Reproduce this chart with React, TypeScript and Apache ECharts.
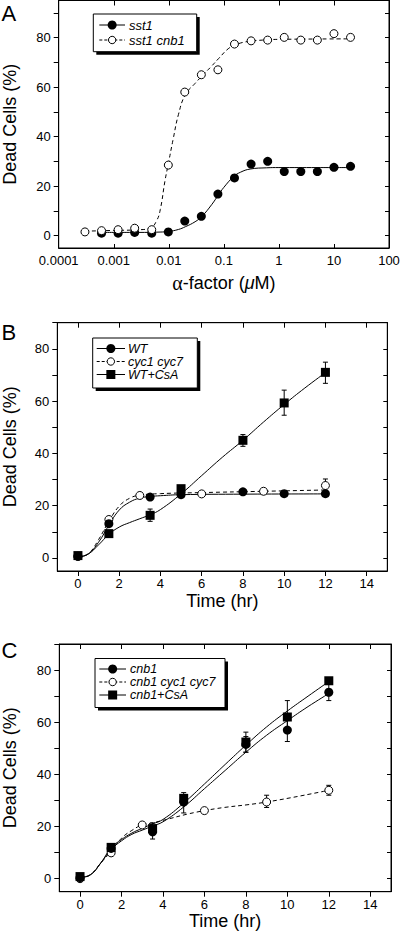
import React, { useEffect, useRef } from "react";
import * as echarts from "echarts";

// ---------- Panel A ----------
const aDoseX = [0.0003, 0.0006, 0.0012, 0.0024, 0.0049, 0.0098, 0.0195, 0.039, 0.078, 0.156, 0.3125, 0.625, 1.25, 2.5, 5, 10, 20];
const aSst1 = [null, 1, 1, 1.3, 1, 1.5, 5.9, 7.8, 16.8, 23.3, 28.9, 30, 25.9, 25.9, 25.9, 27.6, 28];
const aSst1Cnb1 = [1.5, 2, 2.4, 3, 2.4, 28.5, 58, 65, 67, 77.4, 78.7, 79, 80.1, 79, 79, 81.6, 80.1];
const aFitSst1X = [0.0006, 0.001, 0.003, 0.006, 0.01, 0.015, 0.02, 0.03, 0.04, 0.06, 0.08, 0.1, 0.15, 0.2, 0.3, 0.6, 1, 5, 20];
const aFitSst1Y = [1.3, 1.3, 1.3, 1.4, 1.7, 2.5, 3.6, 5.6, 7.8, 12.5, 16.5, 19.5, 23.8, 25.6, 26.9, 27.4, 27.5, 27.5, 27.5];
const aFitCnb1X = [0.0003, 0.001, 0.003, 0.0046, 0.006, 0.007, 0.0085, 0.01, 0.012, 0.015, 0.02, 0.03, 0.04, 0.06, 0.08, 0.12, 0.16, 0.25, 0.5, 1, 20];
const aFitCnb1Y = [1.8, 2.1, 2.4, 3, 6, 10.5, 22, 30, 39, 49, 57, 61.5, 64.5, 68.5, 71.5, 75.5, 77, 78.3, 79, 79.3, 79.5];
const aDoseTickLabels = ["0.0001", "0.001", "0.01", "0.1", "1", "10", "100"];
const aNames = ["sst1", "sst1 cnb1"];

// ---------- Panel B ----------
const bWtX = [0, 1.5, 3.5, 5, 8, 10, 12];
const bWtY = [0.6, 13.1, 23.3, 24.2, 25.3, 24.6, 24.6];
const bCycX = [0, 1.5, 3, 6, 9, 12];
const bCycY = [0.6, 14.7, 23.9, 24.5, 25.5, 27.7];
const bCsaX = [0, 1.5, 3.5, 5, 8, 10, 12];
const bCsaY = [0.9, 9.3, 16.3, 26.5, 45, 59.3, 71];
const bFitWtX = [0, 0.5, 1, 1.5, 2, 2.5, 3, 3.5, 4, 5, 8, 12];
const bFitWtY = [0.3, 1.5, 6, 12.5, 18.3, 21.3, 22.9, 23.5, 23.8, 24.2, 24.4, 24.5];
const bFitCycX = [0, 0.5, 1, 1.5, 2, 2.5, 3, 4, 6, 9, 12];
const bFitCycY = [0.3, 1.6, 7, 14, 19.8, 22.8, 24, 24.6, 25, 25.5, 26];
const bFitCsaX = [0, 0.5, 1, 1.5, 2, 2.5, 3, 3.5, 4, 5, 6, 7, 8, 9, 10, 11, 12];
const bFitCsaY = [0.3, 1.5, 5, 9, 11.8, 13.5, 15, 16.5, 18.5, 24.5, 31.5, 38.5, 45, 52, 58.7, 65, 70.9];
const bErrCsa = [[3.5, 14, 18.7], [8, 42.7, 47.2], [10, 54.6, 64.2], [12, 66.8, 74.9]];
const bErrCyc = [[12, 25.5, 30.2]];
const bNames = ["WT", "cyc1 cyc7", "WT+CsA"];

// ---------- Panel C ----------
const cCnbX = [0, 1.5, 3.5, 5, 8, 10, 12];
const cCnbY = [0.4, 11.6, 18, 29.4, 51.5, 57, 71.5];
const cCycX = [0, 1.5, 3, 6, 9, 12];
const cCycY = [0, 9.9, 20.6, 26.1, 29.4, 33.9];
const cCsaX = [0, 1.5, 3.5, 5, 8, 10, 12];
const cCsaY = [0.8, 12, 19.2, 30.8, 52.4, 62, 75.9];
const cFitCnbX = [0, 0.5, 1, 1.5, 2, 2.5, 3, 3.5, 4, 5, 6, 7, 8, 9, 10, 11, 12];
const cFitCnbY = [0.5, 1.5, 6, 11.2, 14.5, 17, 18.6, 20.2, 21.8, 27.5, 34.5, 41.5, 48.5, 55, 60.6, 66, 71];
const cFitCsaX = [0, 0.5, 1, 1.5, 2, 2.5, 3, 3.5, 4, 5, 6, 7, 8, 9, 10, 11, 12];
const cFitCsaY = [0.5, 1.5, 6, 11.8, 15, 17.5, 19.3, 21, 22.7, 29, 36.3, 43.8, 51.2, 58.2, 64.3, 70, 75.6];
const cFitCycX = [0, 0.5, 1, 1.5, 2, 2.5, 3, 3.5, 6, 9, 12];
const cFitCycY = [0, 1.5, 6, 10.5, 15.5, 18.5, 20.6, 21.4, 26.1, 29.4, 33.9];
const cErrCnb = [[3.5, 15.2, 21.4], [5, 25.2, 33], [8, 48.5, 54.5], [10, 52.6, 61.4], [12, 68.3, 74.7]];
const cErrCsa = [[8, 48.5, 56.2], [10, 55.7, 68.3]];
const cErrCyc = [[9, 27.3, 32], [12, 32, 35.8]];
const cNames = ["cnb1", "cnb1 cyc1 cyc7", "cnb1+CsA"];

const timeTicks = [0, 2, 4, 6, 8, 10, 12, 14];
const yTicks = [0, 10, 20, 30, 40, 50, 60, 70, 80, 90];
const yLabels = [0, 20, 40, 60, 80];

const FONT = '"Liberation Sans", Arial, Helvetica, sans-serif';
const BLACK = "#000";

const zip = (xs: number[], ys: (number | null)[]) =>
  xs.map((x, i) => [x, ys[i]]).filter((p) => p[1] !== null);

function App() {
  const ref = useRef<HTMLDivElement>(null);
  useEffect(() => {
    if (!ref.current) return;
    const chart = echarts.init(ref.current, null, { renderer: "svg" });

    const grids = [
      { left: 58.7, top: 0.5, width: 330.3, height: 247.5 },
      { left: 57.3, top: 322.7, width: 330, height: 248.3 },
      { left: 59.3, top: 644, width: 331.7, height: 247.7 },
    ].map((g) => ({
      ...g, show: true, borderColor: BLACK, borderWidth: 1, backgroundColor: "transparent",
      containLabel: false, outerBoundsMode: "none",
    }));

    const labelStyle = { color: BLACK, fontSize: 13, fontFamily: FONT };
    const nameStyle = { color: BLACK, fontSize: 18, fontFamily: FONT, fontWeight: "normal" };

    const yLeft = (gi: number, max: number, gap: number) => ({
      type: "value", gridIndex: gi, min: -5, max, position: "left",
      axisLine: { show: true, onZero: false, lineStyle: { color: BLACK, width: 1 } },
      axisTick: { show: true, inside: false, length: 5, customValues: yTicks, lineStyle: { color: BLACK } },
      axisLabel: { ...labelStyle, margin: 8, customValues: yLabels },
      splitLine: { show: false },
      name: "Dead Cells (%)", nameLocation: "middle", nameGap: gap, nameTextStyle: nameStyle,
    });
    const yRight = (gi: number, max: number) => ({
      type: "value", gridIndex: gi, min: -5, max, position: "right",
      axisLine: { show: true, onZero: false, lineStyle: { color: BLACK, width: 1 } },
      axisTick: { show: true, inside: true, length: 4, customValues: yTicks, lineStyle: { color: BLACK } },
      axisLabel: { show: false },
      splitLine: { show: false },
    });
    const xTime = (gi: number, nameGap: number) => ({
      type: "value", gridIndex: gi, min: -1, max: 15, position: "bottom",
      axisLine: { show: true, onZero: false, lineStyle: { color: BLACK, width: 1 } },
      axisTick: { show: true, inside: false, length: 5, customValues: timeTicks, lineStyle: { color: BLACK } },
      axisLabel: { ...labelStyle, margin: 6, customValues: timeTicks },
      splitLine: { show: false },
      name: "Time (hr)", nameLocation: "middle", nameGap, nameTextStyle: nameStyle,
    });
    const xTimeTop = (gi: number) => ({
      type: "value", gridIndex: gi, min: -1, max: 15, position: "top",
      axisLine: { show: true, onZero: false, lineStyle: { color: BLACK, width: 1 } },
      axisTick: { show: true, inside: true, length: 5, customValues: timeTicks, lineStyle: { color: BLACK } },
      axisLabel: { show: false },
      splitLine: { show: false },
    });
    const xLog = (pos: string) => ({
      type: "log", logBase: 10, gridIndex: 0, min: 0.0001, max: 100, position: pos,
      axisLine: { show: true, onZero: false, lineStyle: { color: BLACK, width: 1 } },
      axisTick: { show: true, inside: true, length: pos === "top" ? 5 : 4, lineStyle: { color: BLACK } },
      axisLabel: pos === "top" ? { show: false } : {
        ...labelStyle, margin: 6, showMinLabel: true, showMaxLabel: true, hideOverlap: false,
        formatter: (v: number) => aDoseTickLabels[Math.round(Math.log10(v)) + 4] ?? "",
      },
      minorTick: { show: false },
      splitLine: { show: false },
      ...(pos === "bottom"
        ? {
            name: "{g|α}-factor ({i|μ}M)", nameLocation: "middle", nameGap: 25,
            nameTextStyle: {
              ...nameStyle,
              rich: {
                g: { fontFamily: '"Liberation Serif", "DejaVu Serif", serif', fontSize: 20, color: BLACK },
                i: { fontFamily: FONT, fontStyle: "italic", fontSize: 18, color: BLACK },
              },
            },
          }
        : {}),
    });

    const fit = (xi: number, yi: number, xs: number[], ys: number[], dashed: boolean) => ({
      type: "line", xAxisIndex: xi, yAxisIndex: yi, data: zip(xs, ys),
      smooth: 0.45, showSymbol: false, symbol: "none", silent: true, z: 2,
      lineStyle: { color: BLACK, width: 1, type: dashed ? [4, 3] : "solid" },
    });
    const pts = (xi: number, yi: number, xs: number[], ys: (number | null)[], kind: string, z: number) => ({
      type: "scatter", xAxisIndex: xi, yAxisIndex: yi, data: zip(xs, ys), z,
      symbol: kind === "square" ? "rect" : "circle",
      symbolSize: kind === "open" ? 8 : 9,
      itemStyle: kind === "open"
        ? { color: "#fff", borderColor: BLACK, borderWidth: 1, opacity: 1 }
        : { color: BLACK, borderColor: BLACK, borderWidth: 0, opacity: 1 },
    });
    const err = (xi: number, yi: number, data: number[][]) => ({
      type: "custom", xAxisIndex: xi, yAxisIndex: yi, data, z: 3, silent: true,
      encode: { x: 0, y: [1, 2] },
      renderItem: (_p: any, api: any) => {
        const x = api.value(0);
        const lo = api.coord([x, api.value(1)]);
        const hi = api.coord([x, api.value(2)]);
        const st = { stroke: BLACK, lineWidth: 1 };
        return {
          type: "group",
          children: [
            { type: "line", shape: { x1: lo[0], y1: lo[1], x2: hi[0], y2: hi[1] }, style: st },
            { type: "line", shape: { x1: lo[0] - 2.5, y1: lo[1], x2: lo[0] + 2.5, y2: lo[1] }, style: st },
            { type: "line", shape: { x1: hi[0] - 2.5, y1: hi[1], x2: hi[0] + 2.5, y2: hi[1] }, style: st },
          ],
        };
      },
    });

    // legend drawn with graphic
    const legend = (
      bx: number, by: number, bw: number, bh: number,
      lx1: number, lx2: number, tx: number, fs: number,
      rows: { name: string; y: number; kind: string; dashed: boolean }[]
    ) => {
      const els: any[] = [
        { type: "rect", shape: { x: bx + 3, y: by + 3, width: bw, height: bh }, style: { fill: BLACK } },
        { type: "rect", shape: { x: bx, y: by, width: bw, height: bh }, style: { fill: "#fff", stroke: BLACK, lineWidth: 1 } },
      ];
      const mx = (lx1 + lx2) / 2;
      rows.forEach((r) => {
        els.push({
          type: "line", shape: { x1: lx1, y1: r.y, x2: lx2, y2: r.y },
          style: { stroke: BLACK, lineWidth: 1, lineDash: r.dashed ? [3, 2] : null },
        });
        if (r.kind === "square") {
          els.push({ type: "rect", shape: { x: mx - 4.5, y: r.y - 4.5, width: 9, height: 9 }, style: { fill: BLACK } });
        } else if (r.kind === "open") {
          els.push({ type: "circle", shape: { cx: mx, cy: r.y, r: 3.7 }, style: { fill: "#fff", stroke: BLACK, lineWidth: 1 } });
        } else {
          els.push({ type: "circle", shape: { cx: mx, cy: r.y, r: 4.5 }, style: { fill: BLACK } });
        }
        els.push({
          type: "text", x: tx, y: r.y,
          style: {
            text: r.name, fill: BLACK, fontSize: fs, fontStyle: "italic", fontFamily: FONT,
            lineHeight: fs, verticalAlign: "middle", align: "left",
          },
        });
      });
      return els;
    };
    const letter = (t: string, y: number) => ({
      type: "text", x: 1.5, y,
      style: { text: t, fill: BLACK, fontSize: 22, fontFamily: FONT, verticalAlign: "top", align: "left" },
    });

    const option: any = {
      animation: false,
      backgroundColor: "#fff",
      grid: grids,
      xAxis: [xLog("bottom"), xLog("top"), xTime(1, 21), xTimeTop(1), xTime(2, 15), xTimeTop(2)],
      yAxis: [
        yLeft(0, 95, 40), yRight(0, 95),
        yLeft(1, 90, 38.6), yRight(1, 90),
        yLeft(2, 90, 40.6), yRight(2, 90),
      ],
      series: [
        // A
        fit(0, 0, aFitSst1X, aFitSst1Y, false),
        fit(0, 0, aFitCnb1X, aFitCnb1Y, true),
        pts(0, 0, aDoseX, aSst1, "filled", 4),
        pts(0, 0, aDoseX, aSst1Cnb1, "open", 5),
        // B
        fit(2, 2, bFitWtX, bFitWtY, false),
        fit(2, 2, bFitCycX, bFitCycY, true),
        fit(2, 2, bFitCsaX, bFitCsaY, false),
        err(2, 2, bErrCsa),
        err(2, 2, bErrCyc),
        pts(2, 2, bCycX, bCycY, "open", 4),
        pts(2, 2, bWtX, bWtY, "filled", 5),
        pts(2, 2, bCsaX, bCsaY, "square", 6),
        // C
        fit(4, 4, cFitCnbX, cFitCnbY, false),
        fit(4, 4, cFitCycX, cFitCycY, true),
        fit(4, 4, cFitCsaX, cFitCsaY, false),
        err(4, 4, cErrCnb),
        err(4, 4, cErrCsa),
        err(4, 4, cErrCyc),
        pts(4, 4, cCycX, cCycY, "open", 4),
        pts(4, 4, cCnbX, cCnbY, "filled", 5),
        pts(4, 4, cCsaX, cCsaY, "square", 6),
      ],
      graphic: [
        letter("A", 2),
        letter("B", 321),
        letter("C", 639),
        ...legend(93.3, 14, 103.4, 37.7, 99.3, 125, 129, 13, [
          { name: aNames[0], y: 25, kind: "filled", dashed: false },
          { name: aNames[1], y: 40, kind: "open", dashed: true },
        ]),
        ...legend(92.7, 338, 104.6, 50, 96.7, 125, 128, 12.5, [
          { name: bNames[0], y: 348.5, kind: "filled", dashed: false },
          { name: bNames[1], y: 361.5, kind: "open", dashed: true },
          { name: bNames[2], y: 374.5, kind: "square", dashed: false },
        ]),
        ...legend(95, 658.5, 130, 49, 99.3, 126, 130, 12.5, [
          { name: cNames[0], y: 669, kind: "filled", dashed: false },
          { name: cNames[1], y: 682, kind: "open", dashed: true },
          { name: cNames[2], y: 695, kind: "square", dashed: false },
        ]),
      ],
    };
    chart.setOption(option);
    return () => chart.dispose();
  }, []);
  return (
    <div
      ref={ref}
      style={{ position: "absolute", left: 0, top: 0, width: 400, height: 936, background: "#fff" }}
    />
  );
}

export default App;
